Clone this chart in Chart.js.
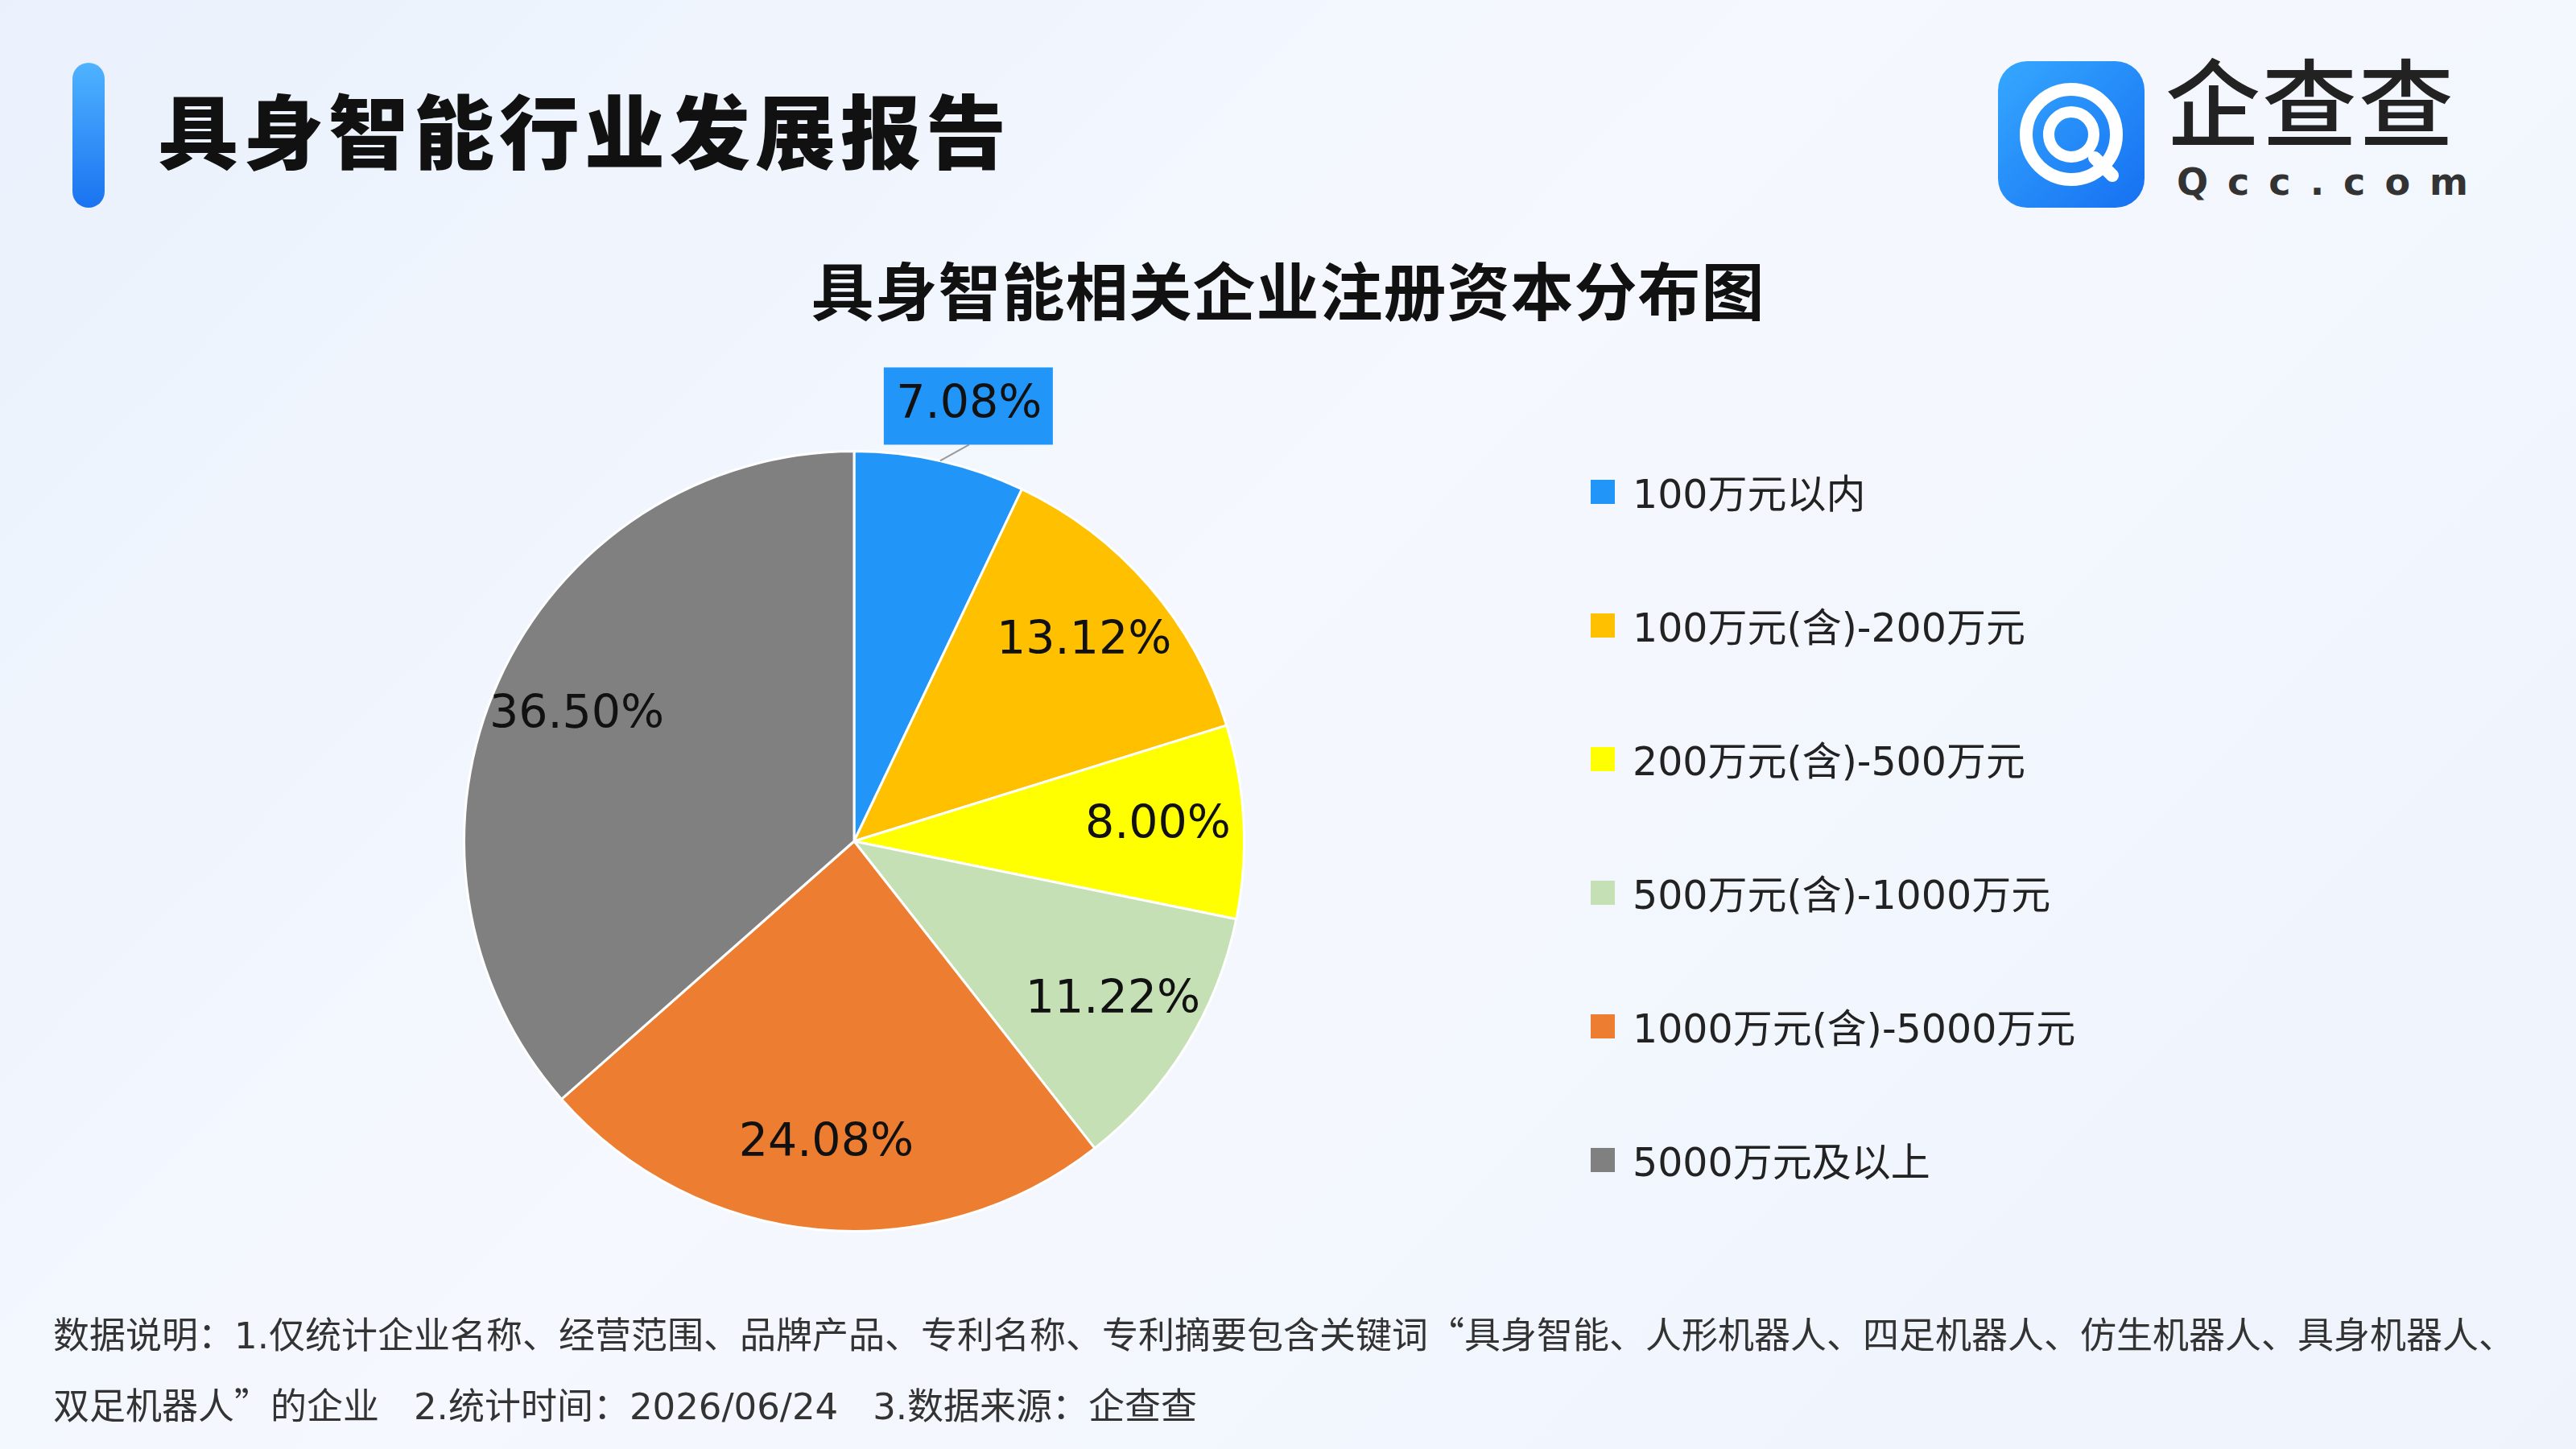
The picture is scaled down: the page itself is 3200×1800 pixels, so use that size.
<!DOCTYPE html>
<html><head><meta charset="utf-8">
<script src="https://cdn.jsdelivr.net/npm/chart.js@4"></script>
<style>
body{margin:0;width:3200px;height:1800px;overflow:hidden;font-family:"DejaVu Sans","Noto Sans CJK SC",sans-serif;
 background:linear-gradient(135deg,#eaf1fc 0%,#f5f8fe 45%,#eef3fc 100%);position:relative;color:#111}
#bar{position:absolute;left:90px;top:78px;width:40px;height:180px;border-radius:20px;background:linear-gradient(#4fb3ff,#1a73f0)}
#head{position:absolute;left:196px;top:86px;font-size:100px;font-weight:900;letter-spacing:6px;font-family:"Noto Sans CJK SC"}
#title{position:absolute;left:0;width:3200px;top:302px;text-align:center;font-size:78px;font-weight:700;letter-spacing:1px;font-family:"Noto Sans CJK SC"}
#logo{position:absolute;left:2482px;top:76px;width:182px;height:182px;border-radius:36px;background:linear-gradient(135deg,#35a8ff,#1670f2)}
#logoTxt{position:absolute;left:2690px;top:52px;font-size:118px;line-height:140px;font-weight:500;color:#222;letter-spacing:2px;font-family:"Noto Sans CJK SC"}
#logoSub{position:absolute;left:2704px;top:198px;font-size:46px;line-height:56px;font-weight:700;color:#333;letter-spacing:24px;font-family:"DejaVu Sans"}
#legend{position:absolute;left:1976px;top:574px}
.li{height:166px;display:flex;align-items:flex-start;font-size:49px;color:#222}
.sw{width:30px;height:30px;margin:22px 22px 0 0}
#note{position:absolute;left:66px;top:1614px;width:3080px;font-size:45px;line-height:84px;color:#333}
.q{font-family:"Noto Sans CJK SC"}
#wrap{position:absolute;left:411px;top:395px;width:1300px;height:1300px}
</style></head><body>
<div id="bar"></div><div id="head">具身智能行业发展报告</div>
<div id="logo"><svg width="182" height="182" viewBox="0 0 182 182"><circle cx="91" cy="91" r="56" fill="none" stroke="#fff" stroke-width="16"/><circle cx="91" cy="91" r="28" fill="none" stroke="#fff" stroke-width="14"/><line x1="120" y1="120" x2="142" y2="142" stroke="#fff" stroke-width="16" stroke-linecap="round"/></svg></div>
<div id="logoTxt">企查查</div><div id="logoSub">Qcc.com</div>
<div id="title">具身智能相关企业注册资本分布图</div>
<div id="wrap"><canvas id="c"></canvas></div>
<div id="legend"></div>
<div id="note">数据说明：1.仅统计企业名称、经营范围、品牌产品、专利名称、专利摘要包含关键词<span class="q">“</span>具身智能、人形机器人、四足机器人、仿生机器人、具身机器人、双足机器人<span class="q">”</span>的企业&nbsp;&nbsp;&nbsp;2.统计时间：2026/06/24&nbsp;&nbsp;&nbsp;3.数据来源：企查查</div>
<script>
const categories = ['100万元以内','100万元(含)-200万元','200万元(含)-500万元','500万元(含)-1000万元','1000万元(含)-5000万元','5000万元及以上'];
const shares = [7.08, 13.12, 8.00, 11.22, 24.08, 36.50];
const colors = ['#2196F8','#FFC000','#FFFF00','#C5E0B4','#ED7D31','#808080'];

const lg = document.getElementById('legend');
categories.forEach((c, i) => {
  lg.insertAdjacentHTML('beforeend', `<div class="li"><div class="sw" style="background:${colors[i]}"></div>${c}</div>`);
});

const labelPlugin = {
  id: 'sliceLabels',
  afterDatasetsDraw(chart) {
    const ctx = chart.ctx;
    ctx.save();
    ctx.font = '57px "DejaVu Sans"';
    ctx.textAlign = 'center';
    ctx.textBaseline = 'middle';
    chart.getDatasetMeta(0).data.forEach((arc, i) => {
      const mid = (arc.startAngle + arc.endAngle) / 2;
      const r = arc.outerRadius;
      const txt = shares[i].toFixed(2) + '%';
      if (i === 0) {
        const x1 = arc.x + Math.cos(mid) * r, y1 = arc.y + Math.sin(mid) * r;
        const bx = x1 + 36, by = y1 - 20;
        ctx.strokeStyle = '#999'; ctx.lineWidth = 2;
        ctx.beginPath(); ctx.moveTo(x1, y1); ctx.lineTo(bx, by); ctx.stroke();
        ctx.fillStyle = colors[0];
        ctx.fillRect(bx - 106, by - 96, 210, 96);
        ctx.fillStyle = '#111';
        ctx.fillText(txt, bx, by - 48);
      } else {
        const k = 0.78;
        ctx.fillStyle = '#111';
        ctx.fillText(txt, arc.x + Math.cos(mid) * r * k, arc.y + Math.sin(mid) * r * k);
      }
    });
    ctx.restore();
  }
};

new Chart(document.getElementById('c'), {
  type: 'pie',
  data: { labels: categories, datasets: [{ data: shares, backgroundColor: colors, borderColor: '#fff', borderWidth: 3 }] },
  options: {
    responsive: true, maintainAspectRatio: false, animation: false,
    layout: { padding: 164 },
    plugins: { legend: { display: false }, tooltip: { enabled: false } }
  },
  plugins: [labelPlugin]
});
</script>
</body></html>
